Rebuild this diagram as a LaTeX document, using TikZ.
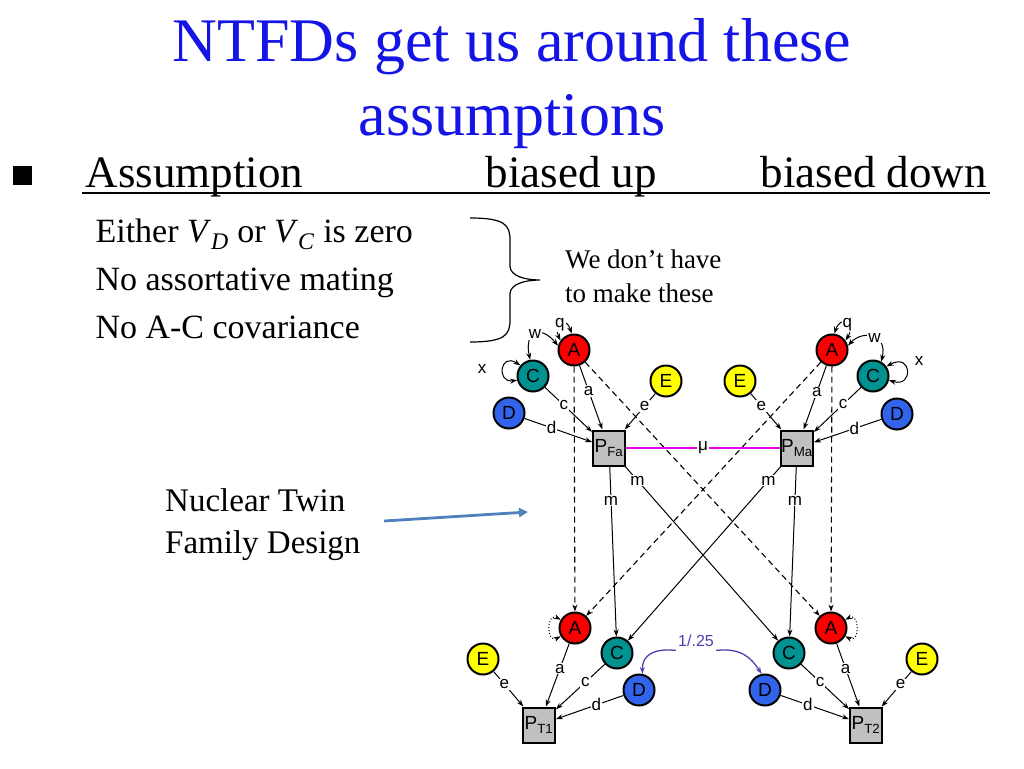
\documentclass[tikz,border=0pt]{standalone}
\usepackage{fontspec}
\setmainfont{Liberation Serif}
\newfontfamily\diagfont{Liberation Sans}
\usetikzlibrary{
  arrows.meta,
}
\newcommand{\fsz}[2]{\fontsize{#1}{#2}\selectfont}
\definecolor{titleblue}{RGB}{20,20,230}
\definecolor{addred}{RGB}{250,0,0}
\definecolor{comteal}{RGB}{0,145,145}
\definecolor{domblue}{RGB}{50,100,235}
\definecolor{uniqyellow}{RGB}{255,255,0}
\definecolor{phgray}{RGB}{192,192,192}
\definecolor{mucol}{RGB}{235,0,235}
\definecolor{corrblue}{RGB}{75,65,175}
\definecolor{arrowblue}{RGB}{79,129,189}
\tikzset{
  >={Stealth[length=7pt,width=5pt]},
  ttl/.style={anchor=base, text=titleblue, font=\fsz{62}{70}},
  hdr/.style={anchor=base west, font=\fsz{45}{50}},
  item/.style={anchor=base west, font=\fsz{34}{40}},
  note/.style={align=left, anchor=north west, inner sep=0pt},
  var/.style={
    circle,
    draw,
    line width=2pt,
    minimum size=31pt,
    inner sep=0pt,
    font=\diagfont\fsz{19}{19}
  },
  Avar/.style={var, fill=addred},
  Cvar/.style={var, fill=comteal},
  Dvar/.style={var, fill=domblue},
  Evar/.style={var, fill=uniqyellow},
  pheno/.style={
    rectangle,
    draw,
    line width=2pt,
    fill=phgray,
    minimum width=32pt,
    minimum height=35pt,
    inner sep=0pt,
    font=\diagfont\fsz{19}{19}
  },
  caus/.style={->, line width=1pt},
  cov/.style={<->, line width=1pt},
  trans/.style={->, line width=1.1pt, dash pattern=on 6pt off 4pt},
  lbl/.style={fill=white, inner sep=1pt, font=\diagfont\fsz{17}{17}},
  corr/.style={->, line width=1.3pt, draw=corrblue},
}

\begin{document}
\begin{tikzpicture}[x=1pt,y=-1pt]
\useasboundingbox (0,0) rectangle (1024,768);
% title and table head
\node[ttl] (ttl1) at (512,62)  {NTFDs get us around these};
\node[ttl] (ttl2) at (512,135) {assumptions};
\node[fill=black, minimum size=19pt, inner sep=0pt] (bul) at (22,175) {};
\node[hdr] (hAs) at (82,187)  {Assumption};
\node[hdr] (hUp) at (482,187) {biased up};
\node[hdr] (hDn) at (757,187) {biased down};
\draw[line width=2pt] ([yshift=-6pt]hAs.base west) -- ([yshift=-6pt]hDn.base east);
\node[item] (it1) at (92,242) {Either \textit{V}\textsubscript{\textit{D}} or \textit{V}\textsubscript{\textit{C}} is zero};
\node[item] (it2) at (92,290) {No assortative mating};
\node[item] (it3) at (92,338) {No A-C covariance};
\draw[line width=1.2pt] (470,218) .. controls (505,218) and (510,225) .. (510,240)
  -- (510,266) .. controls (510,276) and (525,280) .. (540,280)
  .. controls (525,280) and (510,284) .. (510,294)
  -- (510,320) .. controls (510,335) and (505,342) .. (470,342);
\node[note, font=\fsz{27}{34}] (wdh) at (565,250) {We don't have\\to make these};
\node[note, font=\fsz{33}{42}] (ntfd) at (165,488) {Nuclear Twin\\Family Design};
\coordinate (ntail) at (384,521);
\coordinate (nhead) at (528,512);
\draw[-{Triangle[length=9pt,width=9pt]}, line width=2.8pt, draw=arrowblue] (ntail) -- (nhead);
% father
\node[Avar]  (aF)  at (574,350) {A};
\node[Cvar]  (cF)  at (533,376) {C};
\node[Dvar]  (dF)  at (509,413) {D};
\node[Evar]  (eF)  at (666,381) {E};
\node[pheno] (pF)  at (609,448) {P\textsubscript{Fa}};
% mother
\node[Avar]  (aM)  at (832,350) {A};
\node[Cvar]  (cM)  at (873,376) {C};
\node[Dvar]  (dM)  at (897,414) {D};
\node[Evar]  (eM)  at (740,381) {E};
\node[pheno] (pM)  at (797,448) {P\textsubscript{Ma}};
% twin 1
\node[Avar]  (aT1) at (575,628) {A};
\node[Cvar]  (cT1) at (617,653) {C};
\node[Dvar]  (dT1) at (639,690) {D};
\node[Evar]  (eT1) at (483,659) {E};
\node[pheno] (pT1) at (539,725) {P\textsubscript{T1}};
% twin 2
\node[Avar]  (aT2) at (831,628) {A};
\node[Cvar]  (cT2) at (789,653) {C};
\node[Dvar]  (dT2) at (765,690) {D};
\node[Evar]  (eT2) at (922,659) {E};
\node[pheno] (pT2) at (866,725) {P\textsubscript{T2}};
\node[text=corrblue, font=\diagfont\fsz{16}{16}, inner xsep=10pt] (rT) at (696,641) {1/.25};
% paths to phenotypes
\path[caus] (aF)  edge node[lbl,pos=.4]  {a} (pF)
            (cF)  edge node[lbl,pos=.4]  {c} (pF)
            (dF)  edge node[lbl,pos=.4]  {d} (pF)
            (eF)  edge node[lbl,pos=.35] {e} (pF)
            (aM)  edge node[lbl,pos=.42] {a} (pM)
            (cM)  edge node[lbl,pos=.38] {c} (pM)
            (dM)  edge node[lbl,pos=.4]  {d} (pM)
            (eM)  edge node[lbl,pos=.35] {e} (pM)
            (aT1) edge node[lbl,pos=.4]  {a} (pT1)
            (cT1) edge node[lbl,pos=.4]  {c} (pT1)
            (dT1) edge node[lbl,pos=.4]  {d} (pT1)
            (eT1) edge node[lbl,pos=.36] {e} (pT1)
            (aT2) edge node[lbl,pos=.4]  {a} (pT2)
            (cT2) edge node[lbl,pos=.4]  {c} (pT2)
            (dT2) edge node[lbl,pos=.4]  {d} (pT2)
            (eT2) edge node[lbl,pos=.36] {e} (pT2);
% transmission
\path[trans] (aF) edge (aT1)
             (aF) edge (aT2)
             (aM) edge (aT1)
             (aM) edge (aT2);
\path[caus] (pF) edge node[lbl,pos=.2]  {m} (cT1)
            (pF) edge node[lbl,pos=.08] {m} (cT2)
            (pM) edge node[lbl,pos=.08] {m} (cT1)
            (pM) edge node[lbl,pos=.2]  {m} (cT2);
\draw[draw=mucol, line width=2pt] (pF) -- node[lbl]{μ} (pM);
% variances and covariances
\draw[cov] (aF.145) .. controls (553,325) and (565,314) .. node[lbl,pos=.45]{q} (aF.98);
\draw[cov] (aM.82) .. controls (841,314) and (856,324) .. node[lbl,pos=.55]{q} (aM.35);
\draw[cov] (cF.100) .. controls (524,332) and (540,324) .. node[lbl,pos=.5]{w} (aF.165);
\draw[cov] (aM.15) .. controls (862,330) and (888,333) .. node[lbl,pos=.55]{w} (cM.60);
\draw[cov] (cF.140) .. controls (500,352) and (496,383) .. (cF.195);
\node[font=\diagfont\fsz{17}{17}] (xF) at (482,369) {x};
\draw[cov] (cM.35) .. controls (912,352) and (914,388) .. (cM.-15);
\node[font=\diagfont\fsz{17}{17}] (xM) at (919,361) {x};
\draw[cov, dotted] (aT1.150) .. controls (546,612) and (546,644) .. (aT1.210);
\draw[cov, dotted] (aT2.30) .. controls (860,612) and (860,644) .. (aT2.-30);
\draw[corr] (rT.205) .. controls (652,648) and (642,656) .. (dT1.78);
\draw[corr] (rT.-25) .. controls (740,648) and (750,656) .. (dT2.102);
\end{tikzpicture}
\end{document}
